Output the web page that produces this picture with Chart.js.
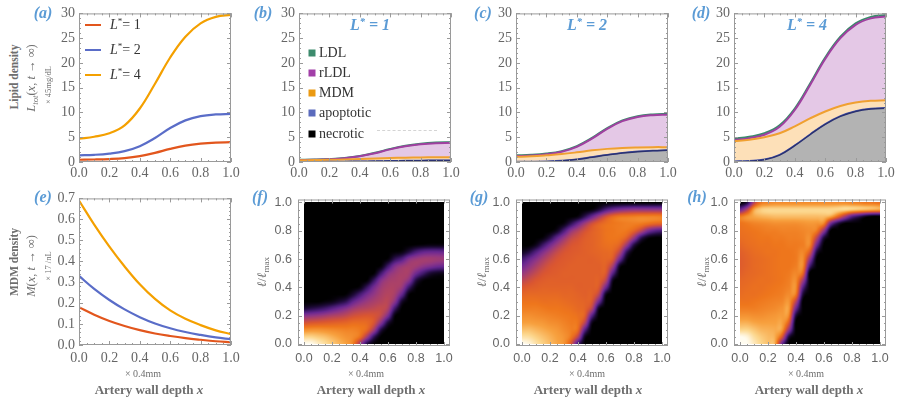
<!DOCTYPE html>
<html>
<head>
<meta charset="utf-8">
<script src="https://cdn.jsdelivr.net/npm/chart.js@4.4.0/dist/chart.umd.min.js"></script>
<style>
  body { margin: 0; background: #fff; width: 897px; height: 401px; position: relative; overflow: hidden; font-family: 'Liberation Serif', serif; }
  canvas { position: absolute; }
  .t { position: absolute; white-space: nowrap; transform: translate(-50%, -50%); line-height: 1; }
  .rot { transform: translate(-50%, -50%) rotate(-90deg); }
  .lab { color: #5b9bd5; font: italic bold 16px 'Liberation Serif'; }
  .ttl { color: #5b9bd5; font: italic bold 16px 'Liberation Serif'; }
  .ax { color: #6e6e6e; }
  sup { font-size: 65%; vertical-align: 0; position: relative; top: -0.5em; }
  sub { font-size: 70%; vertical-align: 0; position: relative; top: 0.3em; }
  .leg { position: absolute; font: 14px 'Liberation Serif'; color: #333; white-space: nowrap; line-height: 1; transform: translateY(-50%); }
  .sq { position: absolute; width: 7px; height: 7px; transform: translate(-50%, -50%); }
  .ln { position: absolute; width: 16px; height: 2px; transform: translateY(-50%); }
</style>
</head>
<body>
<script>
// depth positions of the profiles (x 0.4 mm)
var depth = [0, 0.1, 0.2, 0.3, 0.4, 0.5, 0.6, 0.7, 0.8, 0.9, 1.0];
var xTicks = [0, 0.2, 0.4, 0.6, 0.8, 1.0];
var lipidTicks = [0, 5, 10, 15, 20, 25, 30];
var mdmTicks = [0, 0.1, 0.2, 0.3, 0.4, 0.5, 0.6, 0.7];
var fracTicks = [0, 0.2, 0.4, 0.6, 0.8, 1.0];

// cumulative layer tops, L* = 1
var necroL1 = [0.0, 0.01, 0.03, 0.06, 0.1, 0.15, 0.2, 0.24, 0.27, 0.29, 0.3];
var apopL1  = [0.05, 0.06, 0.08, 0.11, 0.15, 0.2, 0.25, 0.29, 0.32, 0.34, 0.35];
var mdmL1   = [0.35, 0.38, 0.43, 0.5, 0.6, 0.7, 0.8, 0.87, 0.92, 0.95, 0.96];
var rldlL1  = [0.4, 0.45, 0.55, 0.75, 1.15, 1.75, 2.55, 3.17, 3.57, 3.8, 3.87];
var ldlL1   = [0.45, 0.5, 0.6, 0.8, 1.2, 1.85, 2.65, 3.3, 3.7, 3.92, 4.0];
// L* = 2
var necroL2 = [0.0, 0.02, 0.07, 0.2, 0.5, 0.95, 1.4, 1.8, 2.07, 2.25, 2.35];
var apopL2  = [0.08, 0.1, 0.15, 0.28, 0.58, 1.03, 1.48, 1.88, 2.15, 2.33, 2.43];
var mdmL2   = [1.05, 1.15, 1.35, 1.6, 1.95, 2.35, 2.65, 2.85, 2.95, 3.0, 3.0];
var rldlL2  = [1.2, 1.3, 1.55, 2.05, 3.05, 4.7, 6.7, 8.25, 9.1, 9.45, 9.55];
var ldlL2   = [1.35, 1.45, 1.7, 2.2, 3.2, 4.85, 6.85, 8.4, 9.25, 9.6, 9.7];
// L* = 4
var necroL4 = [0.05, 0.15, 0.45, 1.4, 3.3, 5.5, 7.6, 9.2, 10.2, 10.7, 10.85];
var apopL4  = [0.15, 0.25, 0.55, 1.5, 3.4, 5.6, 7.7, 9.3, 10.3, 10.8, 10.95];
var mdmL4   = [4.2, 4.5, 5.0, 5.8, 7.2, 8.8, 10.2, 11.3, 12.0, 12.35, 12.45];
var rldlL4  = [4.4, 4.8, 5.5, 7.1, 10.5, 15.5, 20.8, 25.0, 27.7, 29.0, 29.4];
var ldlL4   = [4.7, 5.1, 5.8, 7.4, 10.8, 15.8, 21.1, 25.3, 28.0, 29.3, 29.7];

// MDM density profiles
var mdmDensL1 = [0.18, 0.145, 0.115, 0.091, 0.071, 0.055, 0.043, 0.033, 0.025, 0.018, 0.013];
var mdmDensL2 = [0.33, 0.268, 0.215, 0.17, 0.133, 0.103, 0.08, 0.062, 0.048, 0.036, 0.027];
var mdmDensL4 = [0.69, 0.575, 0.47, 0.375, 0.29, 0.22, 0.165, 0.125, 0.095, 0.07, 0.052];

// lipid-load distributions: one column per depth step 0.05 (x = 0 .. 1),
// each listing l/lmax = 0, 0.05, ... 1 (trailing zeros left out); level 0 (black) .. 10 (white)
var heatL1 = [
  [10, 9, 7.6, 5.8, 3.8, 1],
  [10, 9, 7.7, 6, 4, 1.3],
  [9.6, 8.8, 7.7, 6.1, 4.2, 1.6],
  [9.2, 8.6, 7.6, 6.2, 4.5, 2, 0.2],
  [8.8, 8.3, 7.5, 6.3, 4.8, 2.6, 0.4],
  [8.4, 8, 7.4, 6.4, 5, 3.2, 0.9],
  [8, 7.7, 7.3, 6.5, 5.3, 3.8, 1.5, 0.1],
  [7.2, 7.5, 7.3, 6.7, 5.7, 4.5, 2.8, 0.9],
  [4.5, 6.8, 7.1, 6.7, 5.9, 4.9, 3.7, 2.1, 0.3],
  [1.2, 4.5, 6.5, 6.6, 6, 5.1, 4.3, 3.3, 1.7, 0.1],
  [0.1, 1.5, 4.5, 5.9, 5.9, 5.3, 4.7, 4.1, 3.3, 1.7, 0.1],
  [0, 0, 1.2, 3.8, 5.3, 5.4, 5, 4.7, 4.4, 3.7, 1.9, 0.2],
  [0, 0, 0, 1, 3.4, 4.8, 5.1, 5, 4.8, 4.5, 3.7, 1.9, 0.2],
  [0, 0, 0, 0, 0.2, 1.8, 3.8, 4.6, 4.8, 4.7, 4.4, 3.6, 1.5, 0.1],
  [0, 0, 0, 0, 0, 0, 0.8, 2.8, 4.2, 4.7, 4.7, 4.3, 2.4, 0.3],
  [0, 0, 0, 0, 0, 0, 0, 0.2, 1.8, 3.8, 4.6, 4.6, 3.8, 1.2],
  [0, 0, 0, 0, 0, 0, 0, 0, 0.2, 1.2, 3.2, 4.5, 4.3, 2.2, 0.1],
  [0, 0, 0, 0, 0, 0, 0, 0, 0, 0.2, 2, 4, 4.5, 2.8, 0.2],
  [0, 0, 0, 0, 0, 0, 0, 0, 0, 0, 1, 3.6, 4.5, 3, 0.3],
  [0, 0, 0, 0, 0, 0, 0, 0, 0, 0, 0.6, 3.2, 4.4, 3, 0.3],
  [0, 0, 0, 0, 0, 0, 0, 0, 0, 0, 0.5, 3, 4.3, 2.9, 0.3]
];
var heatL2 = [
  [10, 9.3, 8.6, 8, 7.6, 7.2, 6.9, 6.5, 6, 5.2, 4.2, 3.2, 2, 0.6],
  [9.8, 9.2, 8.6, 8, 7.6, 7.2, 6.9, 6.6, 6.2, 5.6, 4.8, 3.9, 2.9, 1.2],
  [9.3, 8.9, 8.4, 7.9, 7.5, 7.2, 6.9, 6.6, 6.3, 6, 5.4, 4.7, 3.8, 2.4, 0.5],
  [8.9, 8.6, 8.2, 7.8, 7.4, 7.1, 6.8, 6.6, 6.4, 6.2, 5.9, 5.4, 4.7, 3.6, 1.8, 0.2],
  [8.5, 8.3, 8, 7.6, 7.3, 7, 6.8, 6.6, 6.4, 6.3, 6.1, 5.9, 5.4, 4.6, 3.2, 1.2],
  [8.1, 8, 7.8, 7.5, 7.2, 7, 6.8, 6.6, 6.4, 6.3, 6.2, 6.1, 5.9, 5.4, 4.4, 2.8, 0.6],
  [7.7, 7.7, 7.5, 7.3, 7.1, 6.9, 6.7, 6.5, 6.4, 6.3, 6.3, 6.2, 6.1, 5.9, 5.3, 4.2, 2.2, 0.3],
  [6, 7, 7.2, 7.1, 7, 6.8, 6.6, 6.5, 6.4, 6.3, 6.3, 6.3, 6.2, 6.1, 5.9, 5.3, 4, 1.5],
  [2, 5, 6.6, 6.9, 6.8, 6.6, 6.5, 6.4, 6.3, 6.3, 6.3, 6.3, 6.3, 6.2, 6.1, 5.8, 5, 3, 0.3],
  [0, 0.5, 2.5, 5, 6.2, 6.4, 6.4, 6.3, 6.3, 6.3, 6.3, 6.3, 6.3, 6.3, 6.3, 6.2, 5.8, 4.5, 1.5],
  [0, 0, 0, 0.5, 2.5, 5, 6, 6.3, 6.3, 6.3, 6.3, 6.3, 6.3, 6.4, 6.4, 6.4, 6.3, 5.7, 3, 0.2],
  [0, 0, 0, 0, 0, 0.5, 3, 5, 6, 6.3, 6.3, 6.3, 6.4, 6.5, 6.6, 6.6, 6.6, 6.4, 4.5, 1],
  [0, 0, 0, 0, 0, 0, 0, 0.5, 3, 5, 6, 6.3, 6.5, 6.6, 6.8, 6.9, 6.9, 6.8, 5.8, 2.2],
  [0, 0, 0, 0, 0, 0, 0, 0, 0, 0.5, 2.5, 4.5, 6, 6.5, 6.8, 7, 7, 7, 6.6, 3],
  [0, 0, 0, 0, 0, 0, 0, 0, 0, 0, 0, 0.5, 3, 5, 6.3, 6.9, 7.1, 7.1, 7, 3.5],
  [0, 0, 0, 0, 0, 0, 0, 0, 0, 0, 0, 0, 0.3, 1.5, 4.2, 6.2, 7, 7.2, 7.1, 3.8],
  [0, 0, 0, 0, 0, 0, 0, 0, 0, 0, 0, 0, 0, 0, 1.2, 4.2, 6.4, 7.2, 7.2, 4],
  [0, 0, 0, 0, 0, 0, 0, 0, 0, 0, 0, 0, 0, 0, 0, 1.5, 5.2, 7.1, 7.3, 4],
  [0, 0, 0, 0, 0, 0, 0, 0, 0, 0, 0, 0, 0, 0, 0, 0.3, 3.5, 6.8, 7.3, 4],
  [0, 0, 0, 0, 0, 0, 0, 0, 0, 0, 0, 0, 0, 0, 0, 0, 2.6, 6.5, 7.3, 4],
  [0, 0, 0, 0, 0, 0, 0, 0, 0, 0, 0, 0, 0, 0, 0, 0, 2.2, 6.4, 7.2, 4]
];
var heatL4 = [
  [10, 10, 9, 8.3, 7.7, 7.2, 6.9, 6.7, 6.6, 6.5, 6.3, 6.2, 6.2, 6.3, 6.5, 6.7, 6.8, 6.9, 7.1, 3, 0],
  [10, 9.8, 9, 8.3, 7.7, 7.2, 6.9, 6.8, 6.7, 6.6, 6.5, 6.4, 6.4, 6.5, 6.7, 6.8, 6.9, 7.1, 7.7, 5, 1],
  [9.5, 9.2, 8.7, 8.1, 7.6, 7.2, 7, 6.8, 6.8, 6.7, 6.6, 6.6, 6.6, 6.7, 6.8, 6.9, 7, 7.3, 8.1, 8, 5],
  [9, 8.8, 8.4, 8, 7.6, 7.3, 7.1, 6.9, 6.8, 6.8, 6.7, 6.7, 6.7, 6.8, 6.9, 7, 7.1, 7.4, 8.3, 8.8, 7],
  [8.6, 8.5, 8.3, 8, 7.7, 7.4, 7.2, 7, 6.9, 6.8, 6.8, 6.8, 6.8, 6.9, 6.9, 7, 7.2, 7.5, 8.4, 9, 7.3],
  [8.2, 8.2, 8.2, 8, 7.8, 7.5, 7.3, 7.1, 7, 6.9, 6.9, 6.9, 6.9, 6.9, 7, 7.1, 7.2, 7.6, 8.5, 9, 7.5],
  [3, 6, 7.8, 8, 7.9, 7.7, 7.4, 7.2, 7.1, 7, 7, 7, 7, 7, 7, 7.1, 7.3, 7.6, 8.5, 9, 7.5],
  [0, 1, 4, 6, 7.3, 7.8, 7.7, 7.5, 7.3, 7.2, 7.1, 7, 7, 7, 7.1, 7.2, 7.3, 7.6, 8.5, 9, 7.5],
  [0, 0, 0, 0, 1, 3, 5, 7, 7.5, 7.5, 7.4, 7.2, 7.1, 7.1, 7.1, 7.2, 7.3, 7.6, 8.5, 9, 7.5],
  [0, 0, 0, 0, 0, 0, 0, 1, 2.5, 4.5, 6.5, 7.4, 7.5, 7.4, 7.2, 7.3, 7.4, 7.7, 8.5, 9, 7.5],
  [0, 0, 0, 0, 0, 0, 0, 0, 0, 0, 0, 2, 4, 6, 7.3, 7.5, 7.5, 7.8, 8.5, 9, 7.5],
  [0, 0, 0, 0, 0, 0, 0, 0, 0, 0, 0, 0, 0, 1, 3, 5, 7, 7.7, 8.5, 9, 7.5],
  [0, 0, 0, 0, 0, 0, 0, 0, 0, 0, 0, 0, 0, 0, 0, 1, 4, 7.2, 8.5, 9, 7.5],
  [0, 0, 0, 0, 0, 0, 0, 0, 0, 0, 0, 0, 0, 0, 0, 0, 0, 3, 8, 9, 7.5],
  [0, 0, 0, 0, 0, 0, 0, 0, 0, 0, 0, 0, 0, 0, 0, 0, 0, 1, 6.5, 9, 7.5],
  [0, 0, 0, 0, 0, 0, 0, 0, 0, 0, 0, 0, 0, 0, 0, 0, 0, 0, 4.5, 9, 7.5],
  [0, 0, 0, 0, 0, 0, 0, 0, 0, 0, 0, 0, 0, 0, 0, 0, 0, 0, 2.5, 8.8, 7.3],
  [0, 0, 0, 0, 0, 0, 0, 0, 0, 0, 0, 0, 0, 0, 0, 0, 0, 0, 1.5, 8.6, 7.2],
  [0, 0, 0, 0, 0, 0, 0, 0, 0, 0, 0, 0, 0, 0, 0, 0, 0, 0, 0.5, 8.4, 7],
  [0, 0, 0, 0, 0, 0, 0, 0, 0, 0, 0, 0, 0, 0, 0, 0, 0, 0, 0, 8.2, 7],
  [0, 0, 0, 0, 0, 0, 0, 0, 0, 0, 0, 0, 0, 0, 0, 0, 0, 0, 0, 8, 6.8]
];
var fracRows = 21;

var lineColors = { L1: "#e2561d", L2: "#5a6dc8", L4: "#f4a000" };
var layerLine = ["#2a3170", "#4a5ab4", "#f0a030", "#a040a0", "#3a8a6a"];
var layerFill = ["#b3b3b3", "#a9afd9", "#fde0b8", "#e4c8e6", "#b9dccb"];
// level 0..10 colour stops of the density map
var heatStops = [
  [0, 0, 0], [30, 10, 56], [68, 26, 112], [106, 40, 144], [142, 54, 134], [179, 68, 95],
  [218, 86, 48], [238, 118, 28], [247, 160, 62], [252, 214, 140], [255, 252, 240]
];

function pts(ys) {
  return depth.map(function(x, i) { return { x: x, y: ys[i] }; });
}

var framePlugin = {
  id: "frame",
  afterDraw: function(chart, args, o) {
    var ctx = chart.ctx, a = chart.chartArea, x = chart.scales.x, y = chart.scales.y;
    ctx.save();
    ctx.strokeStyle = "#9a9a9a";
    ctx.lineWidth = 1;
    ctx.strokeRect(a.left + 0.5, a.top + 0.5, a.right - a.left - 1, a.bottom - a.top - 1);
    ctx.beginPath();
    function mark(s, v, len) {
      var p = Math.round(s.getPixelForValue(v)) + 0.5;
      if (s === x) {
        ctx.moveTo(p, a.bottom); ctx.lineTo(p, a.bottom - len);
        ctx.moveTo(p, a.top); ctx.lineTo(p, a.top + len);
      } else {
        ctx.moveTo(a.left, p); ctx.lineTo(a.left + len, p);
        ctx.moveTo(a.right, p); ctx.lineTo(a.right - len, p);
      }
    }
    [[x, o.minorX], [y, o.minorY]].forEach(function(pair) {
      var s = pair[0], step = pair[1];
      s.ticks.forEach(function(t) { mark(s, t.value, 4); });
      for (var k = Math.ceil(s.min / step - 1e-6); k * step <= s.max + 1e-9; k++) mark(s, k * step, 2);
    });
    ctx.stroke();
    ctx.restore();
  }
};

function levelColor(v) {
  v = Math.max(0, Math.min(10, v));
  var i = Math.min(9, Math.floor(v)), t = v - i;
  var c0 = heatStops[i], c1 = heatStops[i + 1];
  return [c0[0] + (c1[0] - c0[0]) * t, c0[1] + (c1[1] - c0[1]) * t, c0[2] + (c1[2] - c0[2]) * t];
}

// Catmull-Rom weights for a fractional position t
function crWeights(t) {
  var t2 = t * t, t3 = t2 * t;
  return [0.5 * (-t3 + 2 * t2 - t), 0.5 * (3 * t3 - 5 * t2 + 2), 0.5 * (-3 * t3 + 4 * t2 + t), 0.5 * (t3 - t2)];
}

var heatPlugin = {
  id: "heat",
  beforeDatasetsDraw: function(chart, args, o) {
    if (!o.grid) return;
    var ctx = chart.ctx, x = chart.scales.x, y = chart.scales.y, g = o.grid;
    var x0 = Math.round(x.getPixelForValue(0)), x1 = Math.round(x.getPixelForValue(1));
    var y0 = Math.round(y.getPixelForValue(1)), y1 = Math.round(y.getPixelForValue(0));
    var w = x1 - x0, h = y1 - y0, n = g.length - 1, m = fracRows - 1;
    function cell(i, j) {
      i = Math.max(0, Math.min(n, i)); j = Math.max(0, Math.min(m, j));
      return g[i][j] || 0;
    }
    var img = ctx.createImageData(w, h);
    for (var py = 0; py < h; py++) {
      var v = Math.max(0, Math.min(1, y.getValueForPixel(y0 + py + 0.5))) * m;
      var j = Math.min(m - 1, Math.floor(v)), wy = crWeights(v - j);
      for (var px = 0; px < w; px++) {
        var u = Math.max(0, Math.min(1, x.getValueForPixel(x0 + px + 0.5))) * n;
        var i = Math.min(n - 1, Math.floor(u)), wx = crWeights(u - i);
        var val = 0;
        for (var a = 0; a < 4; a++) {
          var row = 0;
          for (var b = 0; b < 4; b++) row += wx[b] * cell(i - 1 + b, j - 1 + a);
          val += wy[a] * row;
        }
        var c = levelColor(val), k = (py * w + px) * 4;
        img.data[k] = c[0]; img.data[k + 1] = c[1]; img.data[k + 2] = c[2]; img.data[k + 3] = 255;
      }
    }
    ctx.putImageData(img, x0, y0);
  }
};

function panel(frame, o) {
  var padL = 50, padT = 10, padR = 14, padB = 30;
  var c = document.createElement("canvas");
  c.width = frame[2] - frame[0] + padL + padR;
  c.height = frame[3] - frame[1] + padT + padB;
  c.style.left = (frame[0] - padL) + "px";
  c.style.top = (frame[1] - padT) + "px";
  document.body.appendChild(c);
  var tickFont = o.sans ? { family: "'Liberation Sans', sans-serif", size: 12.5 } : { family: "'Liberation Serif', serif", size: 14 };
  return new Chart(c, {
    type: "scatter",
    data: { datasets: o.datasets || [] },
    plugins: [framePlugin, heatPlugin],
    options: {
      responsive: false,
      devicePixelRatio: 1,
      animation: false,
      events: [],
      layout: { padding: { left: 0, top: padT, right: padR, bottom: 0 } },
      scales: {
        x: {
          type: "linear", min: o.xMin, max: o.xMax,
          grid: { display: false, drawTicks: false }, border: { display: false },
          afterBuildTicks: function(s) { s.ticks = xTicks.map(function(v) { return { value: v }; }); },
          afterFit: function(s) { s.height = padB; },
          ticks: { color: "#666", font: tickFont, padding: o.xPad, maxRotation: 0, autoSkip: false,
                   callback: function(v) { return v.toFixed(1); } }
        },
        y: {
          type: "linear", min: o.yMin, max: o.yMax,
          grid: { display: false, drawTicks: false }, border: { display: false },
          afterBuildTicks: function(s) { s.ticks = o.yTicks.map(function(v) { return { value: v }; }); },
          afterFit: function(s) { s.width = padL; },
          ticks: { color: "#666", font: tickFont, padding: o.yPad, autoSkip: false,
                   callback: function(v) { return o.yFmt ? v.toFixed(1) : String(v); } }
        }
      },
      plugins: {
        legend: { display: false },
        tooltip: { enabled: false },
        filler: { drawTime: "beforeDatasetsDraw" },
        frame: { minorX: 0.05, minorY: o.minorY },
        heat: { grid: o.grid || null }
      }
    }
  });
}

function curve(ys, color) {
  return { data: pts(ys), showLine: true, pointRadius: 0, borderColor: color, borderWidth: 2.2,
           tension: 0.4, fill: false };
}

function stack(tops) {
  return tops.map(function(ys, k) {
    return { data: pts(ys), showLine: true, pointRadius: 0, borderColor: layerLine[k],
             backgroundColor: layerFill[k], borderWidth: k < 2 ? 1.5 : 2,
             fill: k === 0 ? "origin" : "-1", tension: 0.4 };
  });
}

var lipidOpts = { xMin: 0, xMax: 1, yMin: 0, yMax: 30, yTicks: lipidTicks, minorY: 1, xPad: 3, yPad: 4 };
function withData(base, extra) { return Object.assign({}, base, extra); }

panel([79, 11, 231, 162], withData(lipidOpts, { datasets: [curve(ldlL1, lineColors.L1), curve(ldlL2, lineColors.L2), curve(ldlL4, lineColors.L4)] }));
panel([299, 11, 451, 162], withData(lipidOpts, { datasets: stack([necroL1, apopL1, mdmL1, rldlL1, ldlL1]) }));
panel([516, 11, 668, 162], withData(lipidOpts, { datasets: stack([necroL2, apopL2, mdmL2, rldlL2, ldlL2]) }));
panel([734, 11, 886, 162], withData(lipidOpts, { datasets: stack([necroL4, apopL4, mdmL4, rldlL4, ldlL4]) }));

panel([79, 196, 231, 345], { xMin: 0, xMax: 1, yMin: 0, yMax: 0.7, yTicks: mdmTicks, minorY: 0.02, xPad: 5, yPad: 4, yFmt: true,
  datasets: [curve(mdmDensL1, lineColors.L1), curve(mdmDensL2, lineColors.L2), curve(mdmDensL4, lineColors.L4)] });
var heatOpts = { xMin: -0.043, xMax: 1.043, yMin: -0.014, yMax: 1.021, yTicks: fracTicks, minorY: 0.05, xPad: 5, yPad: 6, yFmt: true, sans: true };
panel([298, 196, 450, 346], withData(heatOpts, { grid: heatL1 }));
panel([516, 196, 668, 346], withData(heatOpts, { grid: heatL2 }));
panel([734, 196, 886, 346], withData(heatOpts, { grid: heatL4 }));

// text overlays
var html = "";
function put(cls, x, y, style, text) {
  html += '<div class="' + cls + '" style="left:' + x + 'px;top:' + y + 'px;' + style + '">' + text + '</div>';
}
[["(a)", 43, 13], ["(b)", 263, 13], ["(c)", 483, 13], ["(d)", 701, 13],
 ["(e)", 43, 197], ["(f)", 260, 197], ["(g)", 479, 197], ["(h)", 697, 197]].forEach(function(p) {
  put("t lab", p[1], p[2], "", p[0]);
});
put("t ttl", 370, 25, "", "<span>L</span><sup>*</sup> = 1");
put("t ttl", 587, 25, "", "<span>L</span><sup>*</sup> = 2");
put("t ttl", 807, 25, "", "<span>L</span><sup>*</sup> = 4");

put("t rot ax", 14, 77, "font:bold 11.5px 'Liberation Serif'", "Lipid density");
put("t rot ax", 31, 78, "font:12.5px 'Liberation Serif'", "<i>L</i><sub><i>tot</i></sub>(<i>x</i>, <i>t</i> → ∞)");
put("t rot ax", 48, 85, "font:8.5px 'Liberation Serif'", "× 45mg/dL");
put("t rot ax", 14, 262, "font:bold 11.5px 'Liberation Serif'", "MDM density");
put("t rot ax", 31, 266, "font:12.5px 'Liberation Serif'", "<i>M</i>(<i>x</i>, <i>t</i> → ∞)");
put("t rot ax", 48, 266, "font:8.5px 'Liberation Serif'", "× 17 /nL");
[262, 482, 702].forEach(function(x) {
  put("t rot ax", x, 272, "font:13px 'Liberation Serif'", "<i>ℓ</i>/<i>ℓ</i><sub>max</sub>");
});
[[143, 149], [366, 371], [587, 588], [806, 809]].forEach(function(p) {
  put("t ax", p[0], 373, "font:10px 'Liberation Serif'", "× 0.4mm");
  put("t ax", p[1], 390, "font:bold 13px 'Liberation Serif'", "Artery wall depth <i>x</i>");
});

// legend of (a)
[["L1", "1", 25], ["L2", "2", 50], ["L4", "4", 75]].forEach(function(e) {
  html += '<div class="ln" style="left:85px;top:' + e[2] + 'px;background:' + lineColors[e[0]] + '"></div>';
  html += '<div class="leg" style="left:110px;top:' + e[2] + 'px"><i>L</i><sup>*</sup>= ' + e[1] + '</div>';
});
// legend of (b)
var legNames = ["LDL", "rLDL", "MDM", "apoptotic", "necrotic"];
var legColors = ["#3d8b6d", "#a23fa8", "#eb9a12", "#5b6bbd", "#000000"];
var legY = [53, 73, 93, 113, 134];
legNames.forEach(function(nm, k) {
  html += '<div class="sq" style="left:312px;top:' + legY[k] + 'px;background:' + legColors[k] + '"></div>';
  html += '<div class="leg" style="left:319px;top:' + legY[k] + 'px">' + nm + '</div>';
});
html += '<div style="position:absolute;left:377px;top:130px;width:60px;border-top:1px dashed #d4d4d4"></div>';
document.body.insertAdjacentHTML("beforeend", html);
</script>
</body>
</html>
